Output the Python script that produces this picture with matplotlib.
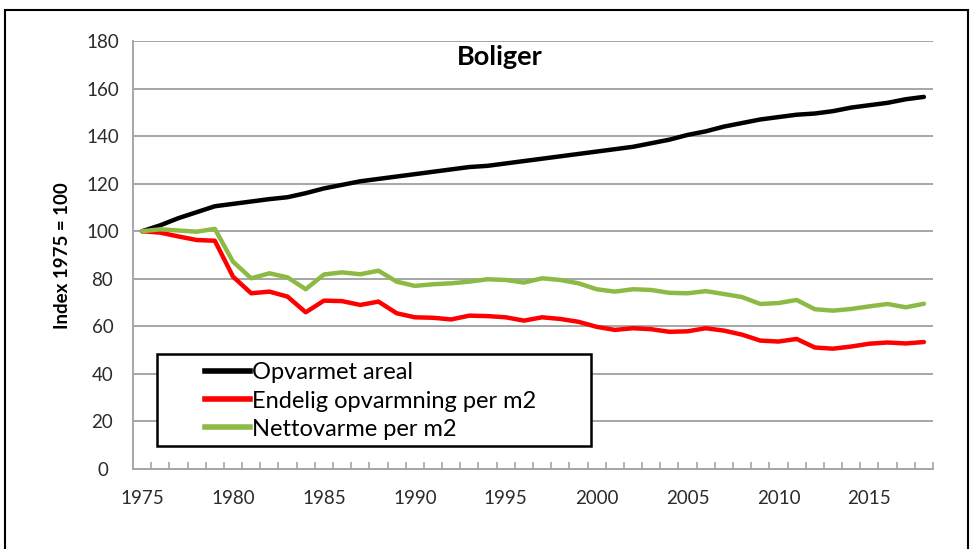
import matplotlib
matplotlib.use("Agg")
import matplotlib.pyplot as plt
from matplotlib.lines import Line2D
from matplotlib.patches import Rectangle

years = list(range(1975, 2019))

# Opvarmet areal
areal = [100, 102.5, 105.5, 108, 110.5, 111.5, 112.5, 113.5, 114.3, 116,
         118, 119.5, 121, 122, 123, 124, 125, 126, 127, 127.5,
         128.5, 129.5, 130.5, 131.5, 132.5, 133.5, 134.5, 135.5, 137, 138.5,
         140.5, 142, 144, 145.5, 147, 148, 149, 149.5, 150.5, 152,
         153, 154, 155.5, 156.5]

# Endelig opvarmning per m2
endelig = [100, 99.4, 97.8, 96.3, 96, 80.9, 73.9, 74.6, 72.5, 65.9,
           70.8, 70.6, 69, 70.4, 65.5, 63.8, 63.6, 62.9, 64.5, 64.3,
           63.8, 62.4, 63.8, 63.1, 61.9, 59.8, 58.5, 59.2, 58.8, 57.7,
           57.9, 59.2, 58.2, 56.5, 54, 53.6, 54.7, 51.1, 50.6, 51.5,
           52.7, 53.2, 52.8, 53.4]

# Nettovarme per m2
netto = [100, 100.8, 100.3, 99.8, 101, 87.2, 80.2, 82.3, 80.6, 75.6,
         81.8, 82.7, 81.9, 83.4, 78.8, 77, 77.7, 78.1, 78.8, 79.8,
         79.5, 78.4, 80.2, 79.5, 78.1, 75.6, 74.6, 75.6, 75.3, 74.1,
         73.9, 74.8, 73.6, 72.3, 69.4, 69.8, 71.1, 67.2, 66.6, 67.3,
         68.4, 69.4, 68, 69.5]

labels = ["Opvarmet areal", "Endelig opvarmning per m2", "Nettovarme per m2"]
colors = ["#000000", "#FF0000", "#8DBA45"]

plt.rcParams["font.family"] = ["Lato", "DejaVu Sans"]

W, H = 980, 549
fig = plt.figure(figsize=(W / 100, H / 100), dpi=100)
ax = fig.add_axes([133 / W, 1 - 469 / H, 800 / W, 428 / H])

for vals, lab, col in zip([areal, endelig, netto], labels, colors):
    ax.plot(years, vals, color=col, lw=3.2, label=lab, solid_joinstyle="round",
            solid_capstyle="round", zorder=3)

ax.set_xlim(1974.5, 2018.5)
ax.set_ylim(0, 180)
ax.set_yticks(range(0, 181, 20))
ax.yaxis.grid(True, color="#A6A6A6", lw=1.4)
ax.set_axisbelow(True)
ax.tick_params(axis="y", length=0, pad=22, labelsize=13.5, labelcolor="#2b2b2b")
for t in ax.get_yticklabels():
    t.set_horizontalalignment("center")

ax.set_xticks(range(1975, 2016, 5))
ax.set_xticks([y + 0.5 for y in range(1975, 2019)], minor=True)
ax.tick_params(axis="x", which="major", length=0, pad=15, labelsize=13.5,
               labelcolor="#2b2b2b")
ax.tick_params(axis="x", which="minor", direction="in", length=5, width=1.2,
               color="#A6A6A6")

for s in ["top", "right"]:
    ax.spines[s].set_visible(False)
for s in ["left", "bottom"]:
    ax.spines[s].set_color("#A6A6A6")
    ax.spines[s].set_linewidth(1.4)

ax.text(0.458, 0.963, "Boliger", transform=ax.transAxes, ha="center", va="center",
        fontsize=19.5, fontweight="bold")
fig.text(62 / W, 1 - 256 / H, "Index 1975 = 100", rotation=90, ha="center",
         va="center", fontsize=13.5, fontweight="bold")

# legend box drawn separately so the entries can sit inset like the original
ax.add_patch(Rectangle(((157 - 133) / 800, (469 - 446) / 428),
                       (591 - 157) / 800, (446 - 354) / 428,
                       transform=ax.transAxes, fill=True, facecolor="white",
                       edgecolor="black", lw=1.8, zorder=4))
handles = [Line2D([0], [0], color=c, lw=4) for c in colors]
leg = ax.legend(handles, labels, loc="center left",
                bbox_to_anchor=((205 - 133) / 800, (469 - 401) / 428),
                fontsize=17, frameon=False, handlelength=1.9, handletextpad=0.08,
                borderaxespad=0, labelspacing=0.3, borderpad=0)
leg.set_zorder(5)

# outer frame
fig.patches.append(Rectangle((5 / W, -0.05), 963 / W, 1 - 10 / H + 0.05,
                             transform=fig.transFigure, fill=False,
                             edgecolor="black", lw=1.5))

fig.savefig("out.png", dpi=100)
